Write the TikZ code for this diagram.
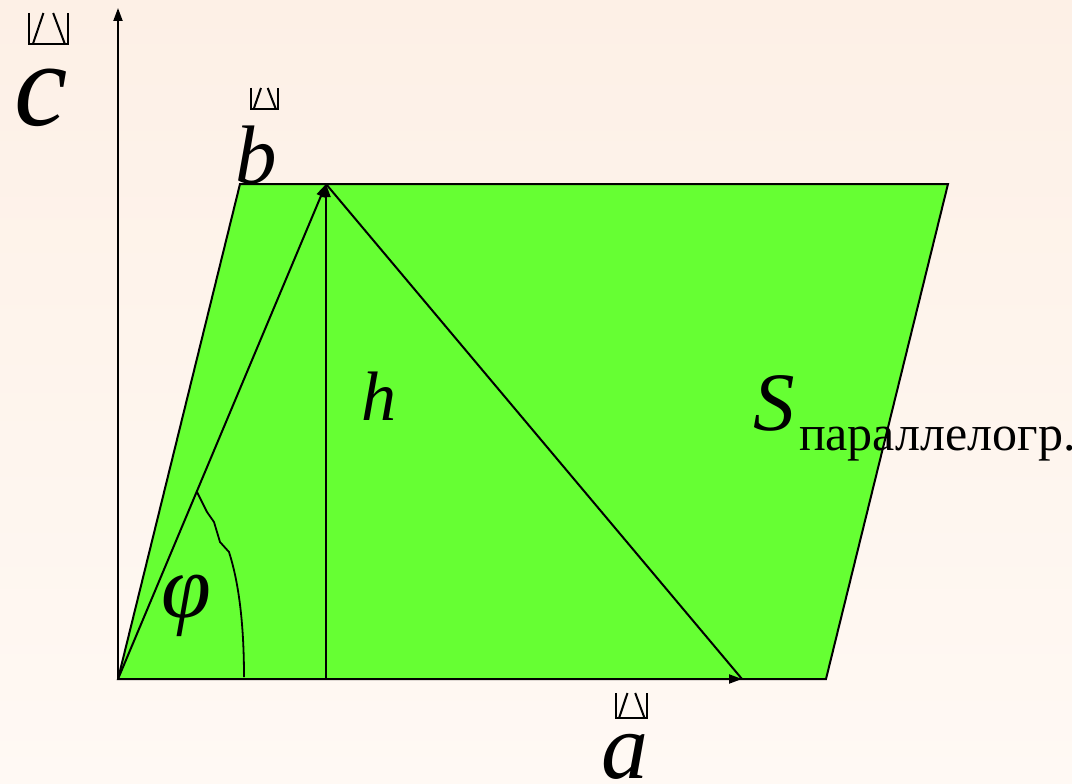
\documentclass[tikz,border=0pt]{standalone}
\usepackage{fontspec}
\setmainfont{Liberation Serif}
\usetikzlibrary{arrows.meta}
\definecolor{bgtop}{HTML}{FDF0E6}
\definecolor{bgbot}{HTML}{FFF9F4}
\definecolor{pgreen}{HTML}{66FF33}
\tikzset{
  vec/.style={-{Triangle[length=13pt,width=9pt]}},
  lbl/.style={inner sep=0pt, anchor=base west},
  vbox/.pic={\draw[line width=2pt] (0,0)--(0,1)--(1,1)--(1,0);
             \draw[line width=2pt] (0.1,1)--(0.37,0) (0.62,0)--(0.92,1);}
}
\begin{document}
\begin{tikzpicture}[x=1pt,y=-1pt,line width=2pt]
\useasboundingbox (0,0) rectangle (1072,784);
\shade[top color=bgtop,bottom color=bgbot] (0,0) rectangle (1072,784);
\coordinate (O) at (118,679);
\coordinate (A) at (742,679);
\coordinate (P2) at (826,679);
\coordinate (P3) at (948,184);
\coordinate (B) at (240,184);
\coordinate (T) at (326,184);
\coordinate (H) at (326,679);
\coordinate (C) at (118,8);
\filldraw[fill=pgreen,draw=black] (O)--(P2)--(P3)--(B)--cycle;
\draw[vec] (O)--(A);
\draw[vec] (O)--(T);
\draw[vec] (H)--(T);
\draw (T)--(A);
\draw[vec] (O)--(C);
\draw[line width=1.8pt] (197,492) -- (207,512) -- (214,522) -- (220,542) -- (229,552)
   .. controls (238,580) and (244,620) .. (244,677);
% labels
\node[lbl] (lc) at (14,125) {\fontsize{120}{120}\selectfont\itshape c};
\pic[xscale=39,yscale=31] at (29,13) {vbox};
\node[lbl] (lb) at (234,183) {\fontsize{83}{83}\selectfont\itshape b};
\pic[xscale=27,yscale=21] at (251,88) {vbox};
\node[lbl] (la) at (600,778) {\fontsize{94}{94}\selectfont\itshape a};
\pic[xscale=31,yscale=25] at (616,693) {vbox};
\node[lbl] (lh) at (360,420) {\fontsize{70}{70}\selectfont\itshape h};
\node[lbl] (lphi) at (160,617) {\fontsize{90}{90}\selectfont\itshape φ};
\node[lbl] (lS) at (752,430) {\fontsize{83}{83}\selectfont\itshape S};
\node[lbl] (lsub) at (798,450) {\fontsize{50}{50}\selectfont параллелогр.};
\end{tikzpicture}
\end{document}
